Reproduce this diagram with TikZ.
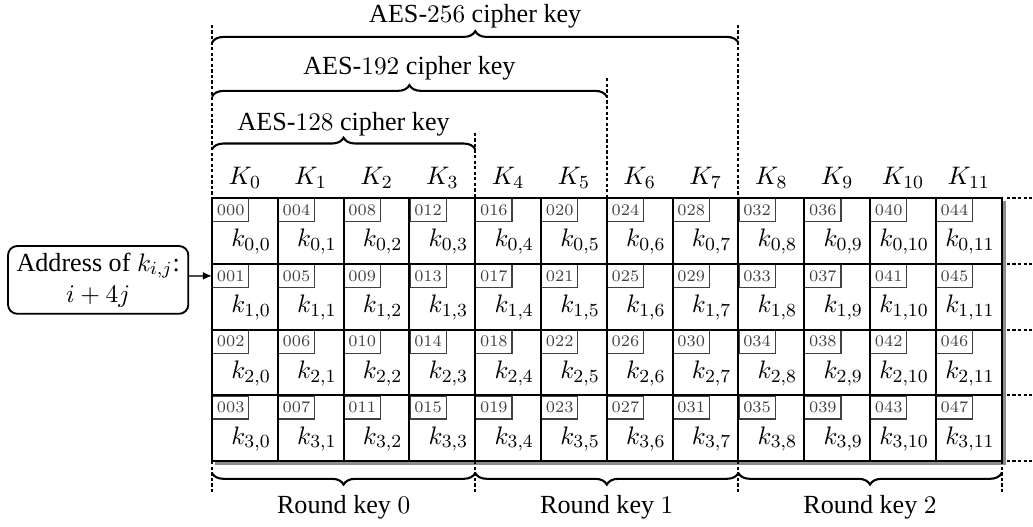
\documentclass[tikz,border=0pt]{standalone}
\usepackage[no-math]{fontspec}
\setmainfont{Liberation Serif}
% keep Computer Modern digits in math
\DeclareSymbolFont{operators}{OT1}{cmr}{m}{n}
\SetSymbolFont{operators}{bold}{OT1}{cmr}{bx}{n}
\usetikzlibrary{decorations.pathreplacing,arrows.meta}

\begin{document}
\begin{tikzpicture}[x=1cm,y=1cm,
  font=\fontsize{11.3}{13.5}\selectfont,
  gridline/.style={line width=0.9pt},
  guide/.style={line width=0.9pt, dash pattern=on 1.4pt off 1pt},
  keybrace/.style={decorate, decoration={brace, amplitude=5pt}, line width=0.9pt},
  roundbrace/.style={decorate, decoration={brace, mirror, amplitude=5pt}, line width=0.9pt},
  addrbox/.style={draw=black!75, text=black!75, line width=0.5pt, inner sep=0pt,
    minimum width=0.55cm, minimum height=0.35cm, anchor=north west,
    font=\fontsize{7.2}{8}\selectfont},
  word/.style={anchor=base east, inner sep=0pt},
  colhead/.style={anchor=base, inner sep=0pt},
  caption/.style={anchor=base, inner sep=0pt},
]
\useasboundingbox (-3.222,-4.985) rectangle (12.477,3.009);

% shadow and background of the key schedule table
\fill[black!45] (0.05,-4.06) rectangle (12.06,-0.05);
\fill[white] (0,-4) rectangle (12,0);

% column headers
\foreach \j in {0,...,11}
  \node[colhead] (K\j) at (\j+0.5,0.2) {$K_{\j}$};

% cells: address tag and key byte
\foreach \i in {0,...,3}
  \foreach \j in {0,...,11} {
    \pgfmathtruncatemacro\addr{4*\j+\i}
    \node[addrbox] (a\i-\j) at (\j,-\i)
      {$\ifnum\addr<10 00\addr\else 0\addr\fi$};
    \node[word] (k\i-\j) at (\j+0.9,-\i-0.74) {$k_{\i,\j}$};
  }

% table rules
\draw[gridline] (0,0) rectangle (12,-4);
\foreach \x in {1,...,11}
  \draw[gridline] (\x,0) -- (\x,-4);
\foreach \y in {1,2,3}
  \draw[gridline] (0,-\y) -- (12,-\y);

% dotted guide lines
\draw[guide] (0,2.63) -- (0,0);
\draw[guide] (8,2.63) -- (8,0);
\draw[guide] (6,1.82) -- (6,0);
\draw[guide] (4,0.99) -- (4,0);
\foreach \x in {0,4,8,12}
  \draw[guide] (\x,-4) -- (\x,-4.47);
\foreach \y in {0,1,2,3,4}
  \draw[guide] (12.08,-\y) -- (12.5,-\y);

% cipher key braces
\draw[keybrace] (0,2.36) -- (8,2.36);
\node[caption] (aes256) at (4,2.67) {AES-$256$ cipher key};
\draw[keybrace] (0,1.54) -- (6,1.54);
\node[caption] (aes192) at (3,1.87) {AES-$192$ cipher key};
\draw[keybrace] (0,0.74) -- (4,0.74);
\node[caption] (aes128) at (2,1.03) {AES-$128$ cipher key};

% round key braces
\draw[roundbrace] (0,-4.18) -- (4,-4.18);
\node[caption] (rk0) at (2,-4.80) {Round key $0$};
\draw[roundbrace] (4,-4.18) -- (8,-4.18);
\node[caption] (rk1) at (6,-4.80) {Round key $1$};
\draw[roundbrace] (8,-4.18) -- (12,-4.18);
\node[caption] (rk2) at (10,-4.80) {Round key $2$};

% address formula
\node[draw, rounded corners=4pt, line width=0.8pt, minimum width=2.74cm,
  minimum height=1.03cm, align=center, inner sep=0pt] (addr) at (-1.73,-1.245)
  {Address of $k_{i,j}$:\\$i+4j$};
\draw[draw=black!70, line width=0.7pt, -{Latex[black,length=4pt,width=3.5pt]}]
  (addr.east |- a1-0.west) -- (a1-0.west);
\end{tikzpicture}
\end{document}
